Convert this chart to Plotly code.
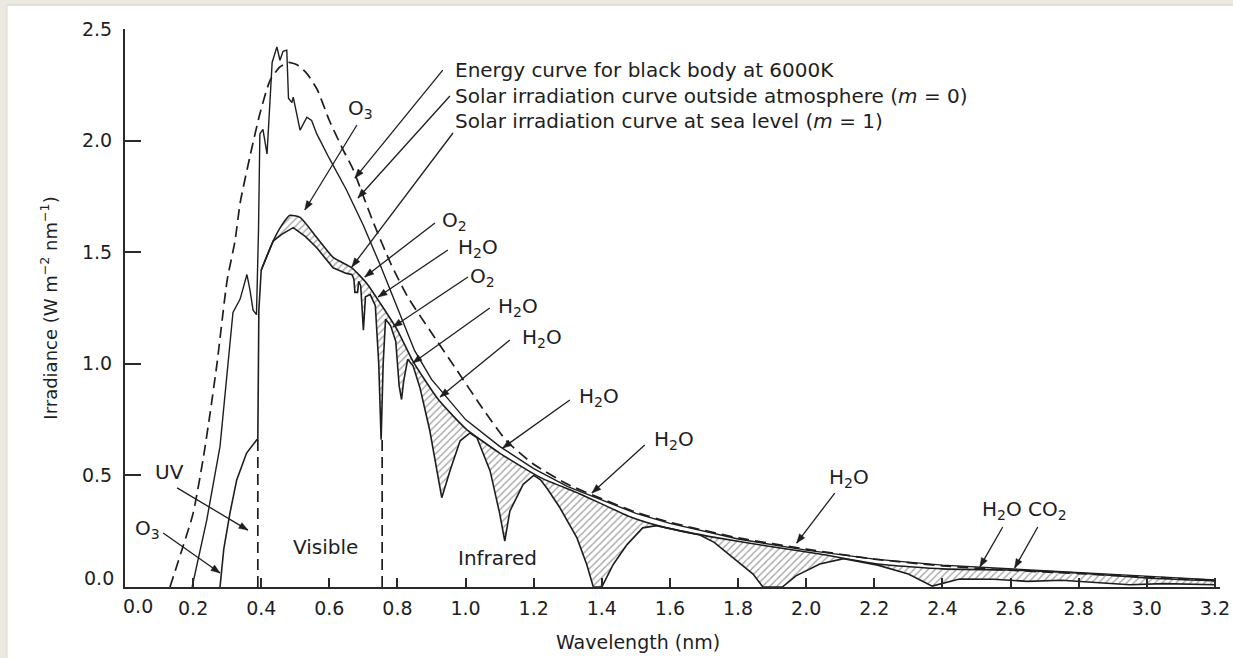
import math
import plotly.graph_objects as go

# ---------------- data ----------------
# Energy curve for black body at 6000K (dashed)
bb_x = [0.132, 0.17, 0.20, 0.229, 0.25, 0.27, 0.30, 0.323, 0.338, 0.367, 0.396, 0.426,
        0.455, 0.48, 0.505, 0.534, 0.564, 0.60, 0.64, 0.67, 0.70, 0.73, 0.78, 0.83,
        0.895, 0.975, 1.05, 1.12, 1.2, 1.3, 1.4, 1.5, 1.6, 1.8, 2.0, 2.2, 2.4, 2.6,
        2.8, 3.0, 3.2]
bb_y = [0.0, 0.18, 0.33, 0.57, 0.78, 1.0, 1.375, 1.55, 1.72, 1.93, 2.12, 2.27,
        2.33, 2.35, 2.34, 2.30, 2.23, 2.09, 1.96, 1.87, 1.75, 1.63, 1.45, 1.30,
        1.15, 0.97, 0.80, 0.655, 0.55, 0.46, 0.395, 0.335, 0.29, 0.22, 0.17, 0.125,
        0.095, 0.075, 0.06, 0.045, 0.03]

# Solar irradiation curve outside atmosphere (m = 0)
m0_x = [0.197, 0.24, 0.279, 0.30, 0.317, 0.338, 0.358, 0.367, 0.376, 0.386, 0.392,
        0.396, 0.405, 0.417, 0.426, 0.432, 0.446, 0.455, 0.464, 0.475, 0.48, 0.49,
        0.494, 0.514, 0.534, 0.548, 0.563, 0.60, 0.65, 0.70, 0.75, 0.80, 0.85, 0.90,
        1.00, 1.10, 1.20, 1.30, 1.40, 1.50, 1.60, 1.80, 2.00, 2.20, 2.40, 2.60,
        2.80, 3.00, 3.20]
m0_y = [0.0, 0.30, 0.63, 0.95, 1.23, 1.29, 1.40, 1.33, 1.24, 1.22, 1.60,
        2.03, 2.05, 1.94, 2.18, 2.35, 2.42, 2.36, 2.40, 2.405, 2.19, 2.17,
        2.195, 2.047, 2.105, 2.09, 2.03, 1.92, 1.78, 1.62, 1.44, 1.25, 1.06, 0.93,
        0.75, 0.63, 0.53, 0.45, 0.39, 0.33, 0.285, 0.215, 0.165, 0.125, 0.098, 0.082,
        0.066, 0.048, 0.032]

# Sea level curve without absorption (upper edge of the hatched absorption bands)
env_x = [0.40, 0.435, 0.46, 0.484, 0.514, 0.563, 0.611, 0.666, 0.71, 0.75, 0.80,
         0.846, 0.92, 1.00, 1.10, 1.22, 1.336, 1.49, 1.59, 1.74, 1.885, 2.04, 2.21,
         2.40, 2.60, 2.80, 3.00, 3.20]
env_y = [1.42, 1.55, 1.62, 1.665, 1.656, 1.566, 1.477, 1.43, 1.36, 1.27, 1.15,
         1.01, 0.84, 0.71, 0.60, 0.49, 0.417, 0.31, 0.265, 0.22, 0.184, 0.148, 0.103,
         0.081, 0.076, 0.063, 0.04, 0.027]

# Solar irradiation curve at sea level (m = 1), with absorption bands
sl_x = [0.279, 0.29, 0.308, 0.328, 0.357, 0.387, 0.39, 0.393, 0.40, 0.435, 0.46,
        0.494, 0.53, 0.563, 0.611, 0.65, 0.666, 0.672, 0.675, 0.683, 0.686, 0.692,
        0.700, 0.706, 0.72, 0.735, 0.745, 0.752, 0.758, 0.765, 0.78, 0.795, 0.805,
        0.812, 0.818, 0.83, 0.846, 0.866, 0.895, 0.916, 0.93, 0.954, 0.984, 1.013,
        1.033, 1.072, 1.10, 1.115, 1.13, 1.169, 1.20, 1.22, 1.24, 1.277, 1.327,
        1.356, 1.375, 1.40, 1.433, 1.474, 1.52, 1.56, 1.60, 1.65, 1.688, 1.73,
        1.785, 1.844, 1.873, 1.93, 1.97, 2.04, 2.11, 2.21, 2.30, 2.37, 2.45, 2.55,
        2.65, 2.75, 2.85, 2.95, 3.05, 3.20]
sl_y = [0.0, 0.17, 0.33, 0.48, 0.60, 0.66, 0.66, 1.24, 1.42, 1.55, 1.58,
        1.61, 1.57, 1.52, 1.43, 1.405, 1.40, 1.38, 1.32, 1.32, 1.37, 1.35,
        1.15, 1.30, 1.31, 1.26, 1.0, 0.66, 1.0, 1.2, 1.17, 1.10, 0.90,
        0.84, 0.92, 1.02, 0.99, 0.893, 0.70, 0.52, 0.40, 0.52, 0.655, 0.69,
        0.67, 0.52, 0.33, 0.206, 0.34, 0.46, 0.50, 0.48, 0.44, 0.355, 0.22,
        0.10, 0.0, 0.0, 0.10, 0.19, 0.265, 0.275, 0.262, 0.245, 0.233, 0.20,
        0.13, 0.058, 0.0, 0.0, 0.05, 0.103, 0.127, 0.098, 0.058, 0.004, 0.036, 0.035,
        0.025, 0.03, 0.02, 0.01, 0.015, 0.01]

# UV / visible / infrared boundaries
band_edges = [0.39, 0.755]
band_tops = [0.66, 0.66]

x_tickvals = [0.2, 0.4, 0.6, 0.8, 1.0, 1.2, 1.4, 1.6, 1.8, 2.0, 2.2, 2.4, 2.6, 2.8, 3.0, 3.2]
x_ticktext = ["0.2", "0.4", "0.6", "0.8", "1.0", "1.2", "1.4", "1.6", "1.8", "2.0",
              "2.2", "2.4", "2.6", "2.8", "3.0", "3.2"]
y_tickvals = [0.5, 1.0, 1.5, 2.0, 2.5]
y_ticktext = ["0.5", "1.0", "1.5", "2.0", "2.5"]

# ---------------- figure ----------------
FONT = "DejaVu Sans"
INK = "#1e1e1e"
X_MAX, Y_MAX = 3.215, 2.5
PX_L, PX_R, PX_T, PX_B = 125, 1220, 29, 587
SX = (PX_R - PX_L) / X_MAX   # px per x unit
SY = (PX_B - PX_T) / Y_MAX   # px per y unit

fig = go.Figure()

# hatched absorption areas: between the actual sea-level curve and its envelope
fill_x = [x for x in sl_x if x >= env_x[0]]
fill_y = [y for x, y in zip(sl_x, sl_y) if x >= env_x[0]]
fig.add_trace(go.Scatter(x=fill_x, y=fill_y, mode="lines", line=dict(width=0, color=INK),
                         hoverinfo="skip", showlegend=False))
fig.add_trace(go.Scatter(x=env_x, y=env_y, mode="lines", fill="tonexty",
                         fillcolor="rgba(0,0,0,0)",
                         fillpattern=dict(shape="/", fgcolor="#4a4a4a", bgcolor="rgba(0,0,0,0)",
                                          size=5, solidity=0.28),
                         line=dict(color=INK, width=1.6, shape="spline", smoothing=0.5),
                         hoverinfo="skip", showlegend=False))
fig.add_trace(go.Scatter(x=sl_x, y=sl_y, mode="lines", line=dict(color=INK, width=1.6),
                         showlegend=False))
fig.add_trace(go.Scatter(x=m0_x, y=m0_y, mode="lines", line=dict(color=INK, width=1.4),
                         showlegend=False))
fig.add_trace(go.Scatter(x=bb_x, y=bb_y, mode="lines",
                         line=dict(color=INK, width=1.7, dash="11px,6px", shape="spline",
                                   smoothing=0.6),
                         showlegend=False))

shapes = []
for xe, yt in zip(band_edges, band_tops):
    shapes.append(dict(type="line", xref="x", yref="y", x0=xe, x1=xe, y0=0, y1=yt,
                       line=dict(color=INK, width=1.7, dash="11px,6px")))


def px_x(p):
    return (p - PX_L) / (PX_R - PX_L)


def px_y(p):
    return (PX_B - p) / (PX_B - PX_T)


# beige frame strips of the screenshot
BEIGE = "#ECE9E0"
shapes.append(dict(type="rect", xref="paper", yref="paper", x0=px_x(0), x1=px_x(7),
                   y0=px_y(658), y1=px_y(0), fillcolor=BEIGE, line=dict(width=0)))
shapes.append(dict(type="rect", xref="paper", yref="paper", x0=px_x(0), x1=px_x(1233),
                   y0=px_y(5), y1=px_y(0), fillcolor=BEIGE, line=dict(width=0)))
shapes.append(dict(type="line", xref="paper", yref="paper", x0=px_x(7), x1=px_x(1233),
                   y0=px_y(5), y1=px_y(5), line=dict(color="#CFCCC4", width=1)))
shapes.append(dict(type="line", xref="paper", yref="paper", x0=px_x(7), x1=px_x(7),
                   y0=px_y(658), y1=px_y(5), line=dict(color="#DDDAD2", width=1)))

annotations = []


def label(text, x, y, size=20, anchor="center"):
    annotations.append(dict(text=text, x=x, y=y, xref="x", yref="y", showarrow=False,
                            xanchor=anchor, yanchor="middle",
                            font=dict(family=FONT, size=size, color=INK)))


def leader(tail, tip, head_len=9.0, head_half=3.3):
    """Leader line with a filled arrow head, drawn as layout shapes."""
    shapes.append(dict(type="line", xref="x", yref="y", x0=tail[0], y0=tail[1],
                       x1=tip[0], y1=tip[1], line=dict(color=INK, width=1.3)))
    dx = (tip[0] - tail[0]) * SX
    dy = (tip[1] - tail[1]) * SY
    n = math.hypot(dx, dy)
    ux, uy = dx / n, dy / n
    bx, by = -ux * head_len, -uy * head_len
    px_, py_ = -uy * head_half, ux * head_half
    p1 = (tip[0] + (bx + px_) / SX, tip[1] + (by + py_) / SY)
    p2 = (tip[0] + (bx - px_) / SX, tip[1] + (by - py_) / SY)
    path = "M {:.5f},{:.5f} L {:.5f},{:.5f} L {:.5f},{:.5f} Z".format(
        tip[0], tip[1], p1[0], p1[1], p2[0], p2[1])
    shapes.append(dict(type="path", xref="x", yref="y", path=path, fillcolor=INK,
                       line=dict(color=INK, width=0.5)))


# legend-like texts
label("Energy curve for black body at 6000K", 0.963, 2.316, anchor="left")
label("Solar irradiation curve outside atmosphere (<i>m</i> = 0)", 0.963, 2.200, anchor="left")
label("Solar irradiation curve at sea level (<i>m</i> = 1)", 0.963, 2.088, anchor="left")
leader((0.933, 2.316), (0.675, 1.832))
leader((0.954, 2.200), (0.684, 1.743))
leader((0.963, 2.034), (0.666, 1.434))

# absorber labels
label("O<sub>3</sub>", 0.690, 2.142)
leader((0.681, 2.070), (0.528, 1.689))
label("O<sub>2</sub>", 0.966, 1.640)
leader((0.910, 1.631), (0.704, 1.389))
label("H<sub>2</sub>O", 1.036, 1.519)
leader((0.948, 1.510), (0.743, 1.299))
label("O<sub>2</sub>", 1.051, 1.389)
leader((1.007, 1.389), (0.787, 1.165))
label("H<sub>2</sub>O", 1.154, 1.254)
leader((1.071, 1.250), (0.845, 1.004))
label("H<sub>2</sub>O", 1.224, 1.116)
leader((1.130, 1.107), (0.925, 0.851))
label("H<sub>2</sub>O", 1.391, 0.851)
leader((1.306, 0.838), (1.109, 0.623))
label("H<sub>2</sub>O", 1.611, 0.659)
leader((1.526, 0.636), (1.371, 0.421))
label("H<sub>2</sub>O", 2.125, 0.488)
leader((2.084, 0.421), (1.972, 0.197))
label("H<sub>2</sub>O CO<sub>2</sub>", 2.642, 0.345)
leader((2.577, 0.269), (2.510, 0.090))
leader((2.680, 0.269), (2.612, 0.085))
label("UV", 0.132, 0.515)
leader((0.153, 0.444), (0.361, 0.255))
label("O<sub>3</sub>", 0.065, 0.260)
leader((0.112, 0.242), (0.279, 0.063))
label("Visible", 0.590, 0.179)
label("Infrared", 1.095, 0.130)

# the origin tick labels (offset in the original drawing)
annotations.append(dict(text="0.0", x=0, y=0, xref="x", yref="paper", showarrow=False,
                        xanchor="center", yanchor="top", xshift=13, yshift=-6,
                        font=dict(family=FONT, size=19, color=INK)))
annotations.append(dict(text="0.0", x=0, y=0, xref="paper", yref="y", showarrow=False,
                        xanchor="right", yanchor="middle", xshift=-9, yshift=9,
                        font=dict(family=FONT, size=19, color=INK)))
# x-axis title
annotations.append(dict(text="Wavelength (nm)", x=px_x(638), y=px_y(642), xref="paper",
                        yref="paper", showarrow=False, xanchor="center", yanchor="middle",
                        font=dict(family=FONT, size=19, color=INK)))

fig.update_layout(
    width=1233, height=658,
    margin=dict(l=PX_L, r=1233 - PX_R, t=PX_T, b=658 - PX_B, autoexpand=False),
    paper_bgcolor="white", plot_bgcolor="white",
    showlegend=False, hovermode=False,
    shapes=shapes, annotations=annotations,
    font=dict(family=FONT, size=19, color=INK),
    xaxis=dict(range=[0, X_MAX], showgrid=False, zeroline=False, showline=True,
               linecolor="#2a2a2a", linewidth=2, ticks="inside", ticklen=9, tickwidth=1.5,
               tickcolor="#2a2a2a", tickvals=x_tickvals, ticktext=x_ticktext,
               tickfont=dict(family=FONT, size=19, color=INK), ticklabelstandoff=3,
               automargin=False),
    yaxis=dict(range=[0, Y_MAX], showgrid=False, zeroline=False, showline=True,
               linecolor="#2a2a2a", linewidth=2, ticks="inside", ticklen=16, tickwidth=1.5,
               tickcolor="#2a2a2a", tickvals=y_tickvals, ticktext=y_ticktext,
               tickfont=dict(family=FONT, size=19, color=INK), ticklabelstandoff=7,
               title=dict(text="Irradiance (W m<sup>−2</sup> nm<sup>−1</sup>)",
                          font=dict(family=FONT, size=18, color=INK), standoff=20),
               automargin=False),
)

fig.write_html("out.html", config={"displayModeBar": False},
               post_script="document.body.style.margin='0';document.body.style.overflow='hidden';")
